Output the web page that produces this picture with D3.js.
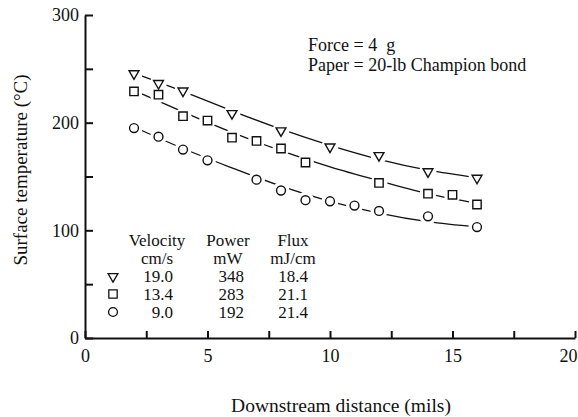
<!DOCTYPE html>
<html>
<head>
    <meta charset="utf-8">
    <script src="https://cdn.jsdelivr.net/npm/d3@7"></script>
    <style>
        body { margin: 0; background: #fff; }
        svg text { font-family: "Liberation Serif", "Times New Roman", serif; fill: #111; }
        .axis path, .axis line { stroke: #111; }
    </style>
</head>
<body>
<div id="chart"></div>
<script>
    // measured points (downstream distance in mils, temperature in C)
    var triX = [2, 3, 4, 6, 8, 10, 12, 14, 16];
    var triY = [246, 237, 230, 209, 193, 178, 170, 155, 149];
    var sqX = [2, 3, 4, 5, 6, 7, 8, 9, 12, 14, 15, 16];
    var sqY = [229, 226, 206, 202, 186, 183, 176, 163, 144, 134, 133, 124];
    var circX = [2, 3, 4, 5, 7, 8, 9, 10, 11, 12, 14, 16];
    var circY = [195, 187, 175, 165, 147, 137, 128, 127, 123, 118, 113, 103];

    // fitted curves as drawn
    var fitX = [2, 4, 6, 8, 10, 12, 14, 16];
    var triFit = [246, 229, 211, 194, 179, 166, 156, 149];
    var sqFit = [230, 210, 191, 174, 159, 146, 134, 125];
    var circFit = [196, 176, 158, 141, 127, 116, 108, 103];

    var xTicks = [0, 2.5, 5, 7.5, 10, 12.5, 15, 17.5, 20];
    var yTicks = [0, 50, 100, 150, 200, 250, 300];

    var legendHead = [["Velocity", "Power", "Flux"], ["cm/s", "mW", "mJ/cm"]];
    var legendRows = [["19.0", "348", "18.4"], ["13.4", "283", "21.1"], ["9.0", "192", "21.4"]];
    var notes = ["Force = 4  g", "Paper = 20-lb Champion bond"];

    var W = 578, H = 417;
    var svg = d3.select('#chart').append('svg').attr('width', W).attr('height', H);

    var x = d3.scaleLinear().domain([0, 20]).range([85, 575]);
    var y = d3.scaleLinear().domain([0, 300]).range([338, 15]);

    var xAxis = d3.axisBottom(x).tickValues(xTicks).tickSizeInner(-7).tickSizeOuter(0)
        .tickPadding(11).tickFormat(function(d) { return d % 5 === 0 ? d : ''; });
    var gx = svg.append('g').attr('class', 'axis').attr('transform', 'translate(0,' + y(0) + ')').call(xAxis);
    gx.select('.domain').attr('stroke-width', 2);
    gx.selectAll('line').attr('stroke-width', 2);
    gx.selectAll('text').style('font-size', '18px').attr('fill', '#111');
    // last label sits flush with the right edge
    gx.selectAll('.tick text').filter(function(d) { return d === 20; }).attr('dx', -7);

    var yAxis = d3.axisLeft(y).tickValues(yTicks).tickSizeInner(-8).tickSizeOuter(0)
        .tickPadding(6).tickFormat(function(d) { return d % 100 === 0 ? d : ''; });
    var gy = svg.append('g').attr('class', 'axis').attr('transform', 'translate(' + x(0) + ',0)').call(yAxis);
    gy.select('.domain').attr('stroke-width', 2);
    gy.selectAll('line').attr('stroke-width', 2);
    gy.selectAll('text').style('font-size', '18px').attr('fill', '#111');

    svg.append('text').attr('x', 341).attr('y', 412).attr('text-anchor', 'middle')
        .style('font-size', '19.5px').text('Downstream distance (mils)');
    svg.append('text').attr('transform', 'translate(27,170) rotate(-90)').attr('text-anchor', 'middle')
        .style('font-size', '19px').text('Surface temperature (\u00b0C)');

    var line = d3.line().x(function(d) { return x(d[0]); }).y(function(d) { return y(d[1]); })
        .curve(d3.curveNatural);

    var series = [
        { xs: triX, ys: triY, fit: triFit, sym: 'tri' },
        { xs: sqX, ys: sqY, fit: sqFit, sym: 'sq' },
        { xs: circX, ys: circY, fit: circFit, sym: 'circ' }
    ];

    function marker(g, type, cx, cy) {
        if (type === 'tri') {
            g.append('path').attr('d', d3.symbol(d3.symbolTriangle, 42)())
                .attr('transform', 'translate(' + cx + ',' + (cy + 0.5) + ') rotate(180)');
        } else if (type === 'sq') {
            g.append('path').attr('d', d3.symbol(d3.symbolSquare, 70)())
                .attr('transform', 'translate(' + cx + ',' + cy + ')');
        } else {
            g.append('path').attr('d', d3.symbol(d3.symbolCircle, 62)())
                .attr('transform', 'translate(' + cx + ',' + cy + ')');
        }
    }

    series.forEach(function(s) {
        svg.append('path').datum(d3.zip(fitX, s.fit)).attr('d', line)
            .attr('fill', 'none').attr('stroke', '#111').attr('stroke-width', 1.3);
    });
    // white gaps around the markers
    series.forEach(function(s) {
        svg.append('g').selectAll('circle').data(d3.zip(s.xs, s.ys)).enter().append('circle')
            .attr('cx', function(d) { return x(d[0]); }).attr('cy', function(d) { return y(d[1]); })
            .attr('r', 8.5).attr('fill', '#fff');
    });
    series.forEach(function(s) {
        var g = svg.append('g').attr('fill', '#fff').attr('stroke', '#111').attr('stroke-width', 1.4);
        d3.zip(s.xs, s.ys).forEach(function(d) { marker(g, s.sym, x(d[0]), y(d[1])); });
    });

    // legend table
    var colX = [157, 228, 293];
    var leg = svg.append('g').style('font-size', '17px');
    legendHead.forEach(function(row, i) {
        row.forEach(function(t, j) {
            leg.append('text').attr('x', colX[j]).attr('y', 246 + i * 18).attr('text-anchor', 'middle').text(t);
        });
    });
    var valX = [173, 244, 308];
    legendRows.forEach(function(row, i) {
        row.forEach(function(t, j) {
            leg.append('text').attr('x', valX[j]).attr('y', 282 + i * 18).attr('text-anchor', 'end').text(t);
        });
        var g = svg.append('g').attr('fill', '#fff').attr('stroke', '#111').attr('stroke-width', 1.3);
        marker(g, series[i].sym, 113, 276 + i * 18);
    });

    svg.append('g').style('font-size', '18px').selectAll('text').data(notes).enter().append('text')
        .attr('x', 308).attr('y', function(d, i) { return 51 + i * 20; })
        .style('white-space', 'pre').text(function(d) { return d; });
</script>
</body>
</html>
